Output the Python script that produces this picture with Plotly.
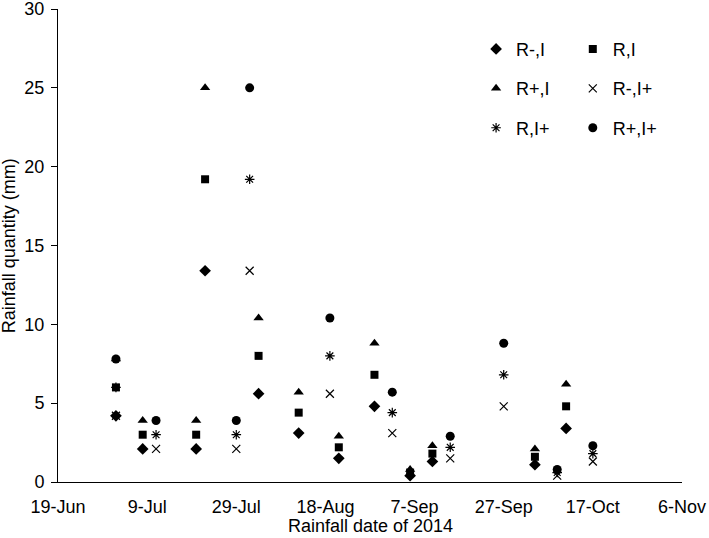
import plotly.graph_objects as go

# ---- data ----
dates_I = ["2014-07-02", "2014-07-08", "2014-07-20", "2014-07-22", "2014-08-03", "2014-08-12",
           "2014-08-21", "2014-08-29", "2014-09-06", "2014-09-11", "2014-10-04", "2014-10-11"]
r_minus_I = [4.2, 2.1, 2.1, 13.4, 5.6, 3.1, 1.5, 4.8, 0.4, 1.3, 1.1, 3.4]
r_I = [6.0, 3.0, 3.0, 19.2, 8.0, 4.4, 2.2, 6.8, 0.6, 1.8, 1.6, 4.8]
r_plus_I = [7.8, 3.9, 3.9, 25.0, 10.4, 5.7, 2.9, 8.8, 0.8, 2.3, 2.1, 6.2]

dates_Iplus = ["2014-07-02", "2014-07-11", "2014-07-29", "2014-08-01", "2014-08-19", "2014-09-02",
               "2014-09-15", "2014-09-27", "2014-10-09", "2014-10-17"]
r_minus_Iplus = [4.2, 2.1, 2.1, 13.4, 5.6, 3.1, 1.5, 4.8, 0.4, 1.3]
r_Iplus = [6.0, 3.0, 3.0, 19.2, 8.0, 4.4, 2.2, 6.8, 0.6, 1.8]
r_plus_Iplus = [7.8, 3.9, 3.9, 25.0, 10.4, 5.7, 2.9, 8.8, 0.8, 2.3]

y_ticks = [0, 5, 10, 15, 20, 25, 30]

FONT = "Liberation Sans, Arial, sans-serif"
fig = go.Figure()

def add(name, x, y, symbol, size, legend, group, line=False):
    marker = dict(symbol=symbol, size=size, color="black")
    if line:
        marker["line"] = dict(color="black", width=1.2)
    fig.add_trace(go.Scatter(x=x, y=y, mode="markers", name=name, marker=marker,
                             legend=legend, legendgroup=group, cliponaxis=False))

add("R-,I", dates_I, r_minus_I, "diamond", 9, "legend", "a")
add("R,I", dates_I, r_I, "square", 8, "legend2", "d")
add("R+,I", dates_I, r_plus_I, "triangle-up", 9, "legend", "b")
add("R-,I+", dates_Iplus, r_minus_Iplus, "x-thin-open", 8, "legend2", "e", line=True)
add("R,I+", dates_Iplus, r_Iplus, "asterisk-open", 8, "legend", "c", line=True)
add("R+,I+", dates_Iplus, r_plus_Iplus, "circle", 9, "legend2", "f")

leg_common = dict(font=dict(family=FONT, size=18, color="black"), bgcolor="rgba(0,0,0,0)",
                  yanchor="top", xanchor="left", tracegroupgap=13, itemwidth=30)

fig.update_layout(
    width=709, height=538,
    margin=dict(l=58, r=27, t=9, b=56, autoexpand=False),
    paper_bgcolor="white", plot_bgcolor="white",
    font=dict(family=FONT, size=18, color="black"),
    showlegend=True,
    legend=dict(x=0.67, y=0.954, **leg_common),
    legend2=dict(x=0.825, y=0.954, **leg_common),
    xaxis=dict(type="date", range=["2014-06-19", "2014-11-06"], automargin=False,
               tick0="2014-06-19", dtick=20 * 86400000, tickformat="%-d-%b",
               showline=True, linecolor="black", linewidth=1, ticks="",
               showgrid=False, zeroline=False, ticklabelstandoff=8,
               ticklabeloverflow="allow",
               tickfont=dict(family=FONT, size=18, color="black")),
    yaxis=dict(range=[0, 30], tickmode="array", tickvals=y_ticks,
               showline=True, linecolor="black", linewidth=1,
               automargin=False, ticklabelstandoff=3, ticklabeloverflow="allow",
               ticks="outside", ticklen=6, tickcolor="black", showgrid=False, zeroline=False,
               tickfont=dict(family=FONT, size=18, color="black")),
    annotations=[
        dict(text="Rainfall date of 2014", xref="paper", yref="paper", x=0.5, y=-0.093,
             xanchor="center", yanchor="middle", showarrow=False,
             font=dict(family=FONT, size=18, color="black")),
        dict(text="Rainfall quantity (mm)", xref="paper", yref="paper", x=-0.079, y=0.5,
             xanchor="center", yanchor="middle", textangle=-90, showarrow=False,
             font=dict(family=FONT, size=18, color="black")),
    ],
)

fig.write_html("out.html", config={"displayModeBar": False},
               post_script="document.body.style.margin='0';document.body.style.overflow='hidden';")
